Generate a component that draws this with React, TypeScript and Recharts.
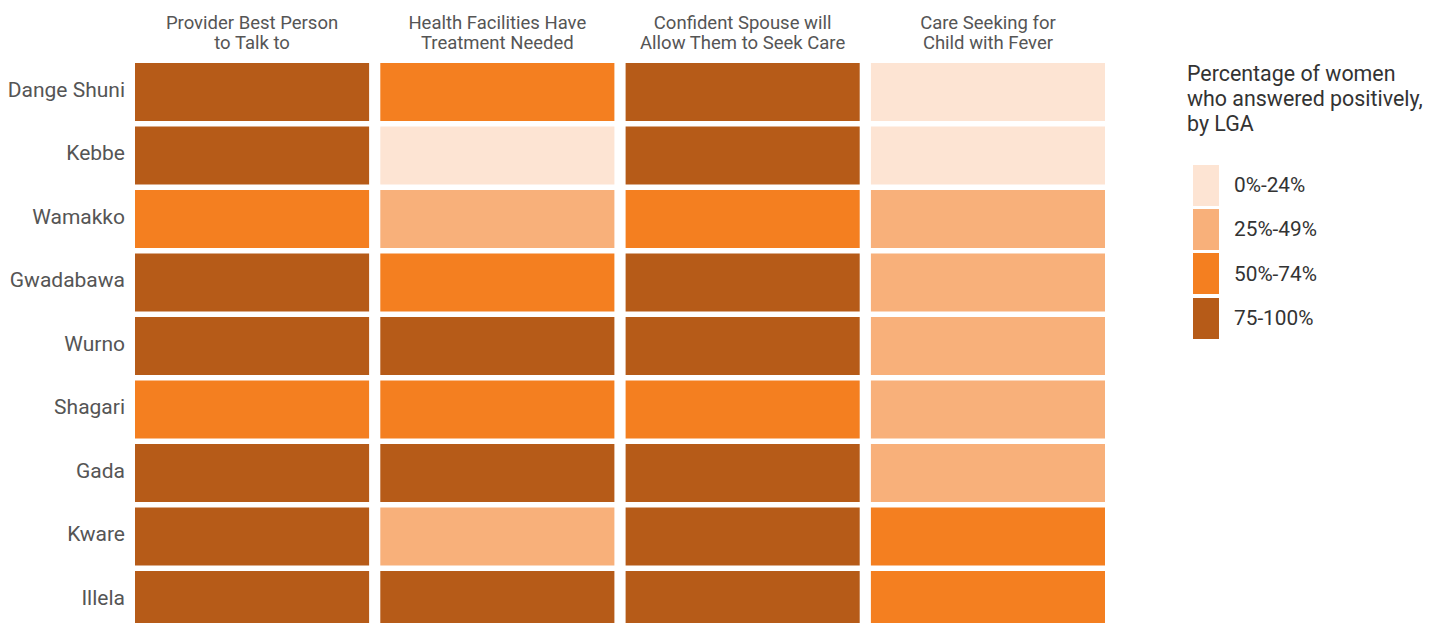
import { Bar, BarChart, Cell, XAxis, YAxis } from "recharts";

const lgas = [
  "Dange Shuni",
  "Kebbe",
  "Wamakko",
  "Gwadabawa",
  "Wurno",
  "Shagari",
  "Gada",
  "Kware",
  "Illela",
];

const questions = [
  ["Provider Best Person", "to Talk to"],
  ["Health Facilities Have", "Treatment Needed"],
  ["Confident Spouse will", "Allow Them to Seek Care"],
  ["Care Seeking for", "Child with Fever"],
];

// band index per LGA: 0 = 0%-24%, 1 = 25%-49%, 2 = 50%-74%, 3 = 75-100%
const providerBest = [3, 3, 2, 3, 3, 2, 3, 3, 3];
const facilitiesTreatment = [2, 0, 1, 2, 3, 2, 3, 1, 3];
const spouseAllow = [3, 3, 2, 3, 3, 2, 3, 3, 3];
const childFever = [0, 0, 1, 1, 1, 1, 1, 2, 2];

const bandLabels = ["0%-24%", "25%-49%", "50%-74%", "75-100%"];
const bandColors = ["#fde4d3", "#f8b07a", "#f47f20", "#b65b18"];

const series = [providerBest, facilitiesTreatment, spouseAllow, childFever];

const data = lgas.map((name, i) => ({
  name,
  q0: 1,
  q1: 1,
  q2: 1,
  q3: 1,
  levels: series.map((s) => s[i]),
}));

const FONT = "Roboto, 'Noto Sans', sans-serif";

/** Inset each stacked segment horizontally so columns read as separate tiles. */
function Tile(props: any) {
  const { x, y, width, height, fill } = props;
  const inset = 5.6;
  return <rect x={x + inset} y={y} width={width - inset * 2} height={height} fill={fill} />;
}

function HeaderTick(props: any) {
  const { x, y, payload } = props;
  const lines = questions[Math.floor(payload.value)] || [];
  return (
    <text x={x} textAnchor="middle" fill="#555" fontSize={18.5} fontFamily={FONT}>
      <tspan x={x} y={y - 30.8}>
        {lines[0]}
      </tspan>
      <tspan x={x} y={y - 10.8}>
        {lines[1]}
      </tspan>
    </text>
  );
}

function RowTick(props: any) {
  const { x, y, payload } = props;
  return (
    <text x={x} y={y} dy={5.1} textAnchor="end" fill="#555" fontSize={21} fontFamily={FONT}>
      {payload.value}
    </text>
  );
}

function BandLegend() {
  return (
    <div style={{ position: "absolute", left: 1187, top: 61, fontFamily: FONT, color: "#333" }}>
      <div style={{ fontSize: 21.4, lineHeight: "25px", width: 250 }}>
        Percentage of women
        <br />
        who answered positively,
        <br />
        by LGA
      </div>
      <div style={{ marginTop: 27, marginLeft: 6 }}>
        {bandLabels.map((label, i) => (
          <div key={label} style={{ display: "flex", alignItems: "center", height: 44.3 }}>
            <div style={{ width: 26, height: 41, background: bandColors[i] }} />
            <span style={{ marginLeft: 15, fontSize: 20.8 }}>{label}</span>
          </div>
        ))}
      </div>
    </div>
  );
}

export default function App() {
  return (
    <div style={{ position: "absolute", left: 0, top: 0, width: 1440, height: 640, background: "#fff" }}>
      <BarChart
        width={1440}
        height={640}
        data={data}
        layout="vertical"
        margin={{ top: 0, right: 329.4, bottom: 8.4, left: 0 }}
        barCategoryGap={2.9}
      >
        <XAxis
          type="number"
          orientation="top"
          domain={[0, 4]}
          ticks={[0.5, 1.5, 2.5, 3.5]}
          height={60.1}
          axisLine={false}
          tickLine={false}
          tickSize={0}
          tickMargin={0}
          tick={<HeaderTick />}
          interval={0}
        />
        <YAxis
          type="category"
          dataKey="name"
          width={129.4}
          axisLine={false}
          tickLine={false}
          tickSize={0}
          tickMargin={4.4}
          interval={0}
          tick={<RowTick />}
        />
        {[0, 1, 2, 3].map((q) => (
          <Bar key={q} dataKey={`q${q}`} stackId="grid" shape={<Tile />} isAnimationActive={false}>
            {data.map((row) => (
              <Cell key={row.name} fill={bandColors[row.levels[q]]} />
            ))}
          </Bar>
        ))}
      </BarChart>
      <BandLegend />
    </div>
  );
}
